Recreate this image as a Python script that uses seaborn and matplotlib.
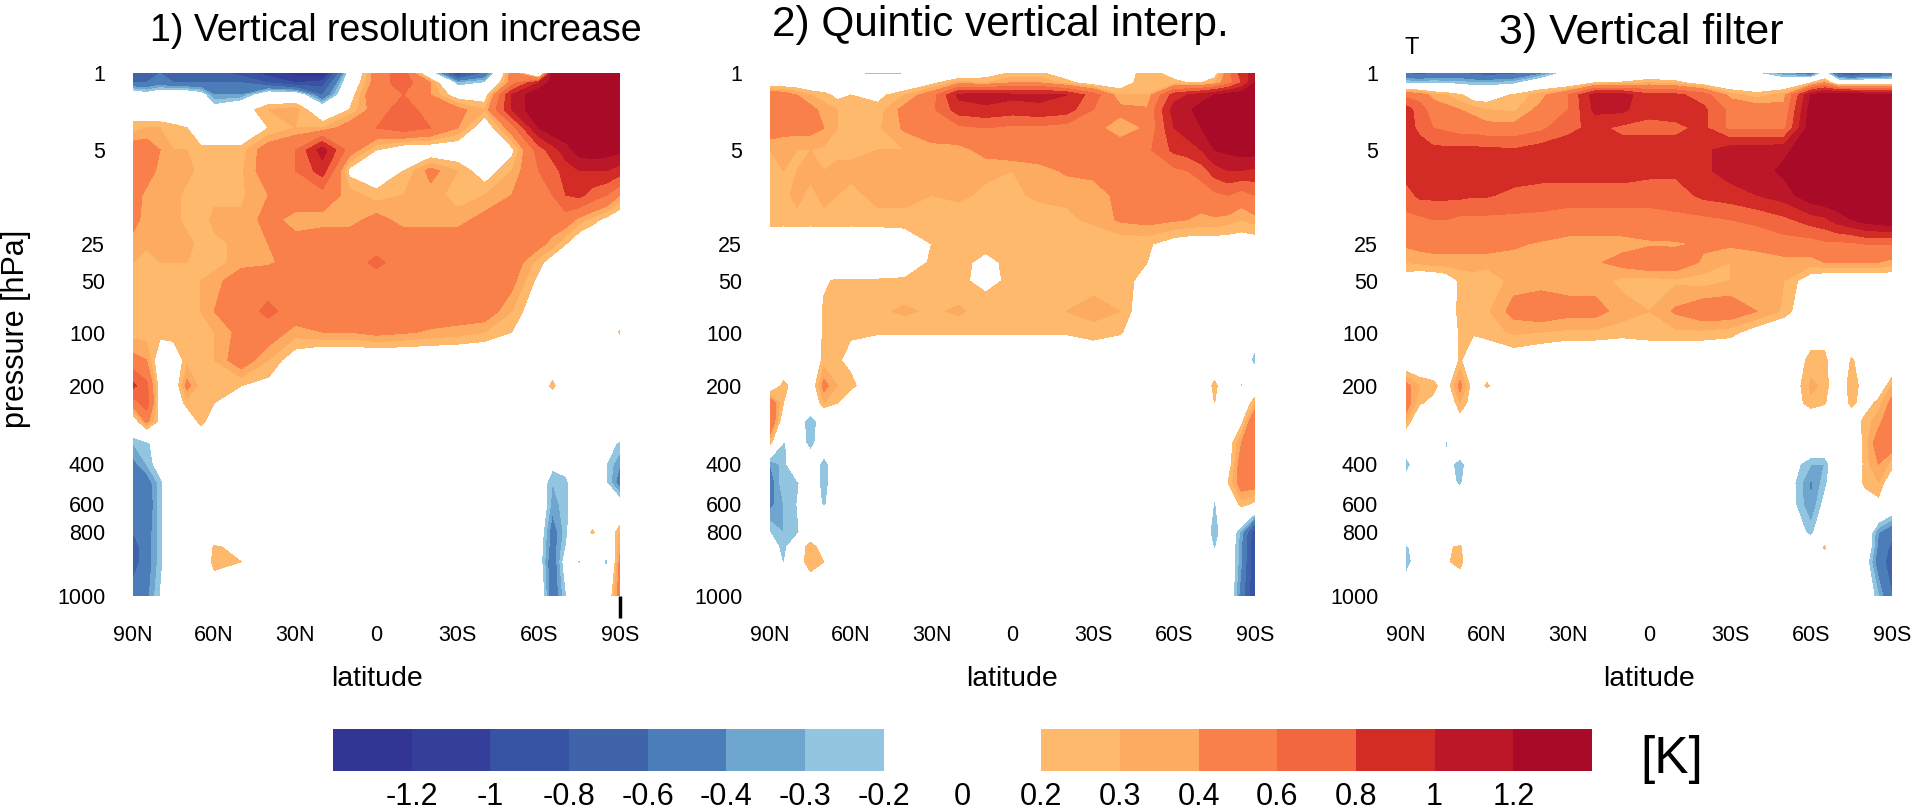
import numpy as np
import seaborn as sns
from matplotlib import pyplot as plt
from matplotlib.colors import ListedColormap

# latitude columns (deg, + is north) and model level rows (0 = top of plot)
lats = [90, 85, 80, 75, 70, 65, 60, 50, 40, 30, 20, 10, 0, -10, -20, -30, -40, -50, -60, -65, -70, -75, -80, -85, -90]
model_level = [0, 8, 18, 30, 45, 63, 80, 100, 120, 140, 155, 170, 195, 212, 235, 256, 270, 285, 303, 320, 335, 353, 376, 388, 400, 428]

pressure_ticks = [1, 5, 25, 50, 100, 200, 400, 600, 800, 1000]
pressure_tick_level = [0, 63, 140, 170, 213, 256, 320, 353, 376, 428]
lat_ticks = [90, 60, 30, 0, -30, -60, -90]
lat_labels = ['90N', '60N', '30N', '0', '30S', '60S', '90S']

titles = ['1) Vertical resolution increase', '2) Quintic vertical interp.', '3) Vertical filter']

# temperature difference [K]
vres_increase = [
    [-.7, -.7, -.6, -.6, -.7, -.7, -.7, -.9, -1.1, -1.3, -1.4, -.1, .5, .7, -.1, -1, -.6, .5, -.4, 1.2, 1.4, 1.4, 1.4, 1.4, 1.4],
    [-.6, -.6, -.5, -.6, -.6, -.6, -.6, -.6, -.8, -1, -.9, 0, .5, .7, .4, -.3, -.2, .5, 1, 1.3, 1.4, 1.4, 1.4, 1.4, 1.4],
    [0, -.1, 0, 0, 0, -.1, -.4, -.4, 0, 0, -.6, .1, .6, .6, .4, .1, .1, 1, 1.4, 1.4, 1.4, 1.4, 1.4, 1.4, 1.4],
    [.1, 0, 0, 0, 0, 0, -.1, .1, .3, .35, 0, .2, .5, .7, .5, .45, .3, 1, 1.4, 1.4, 1.4, 1.4, 1.4, 1.4, 1.4],
    [.25, .3, .3, .25, .2, 0, 0, 0, .2, .3, .3, .5, .6, .7, .6, .4, .05, .5, 1.2, 1.35, 1.4, 1.4, 1.4, 1.4, 1.4],
    [.5, .5, .4, .3, .3, .25, .25, .25, .5, .6, 1.1, .5, .2, .05, .05, .05, .05, .15, .7, .9, 1.1, 1.3, 1.35, 1.3, 1.25],
    [.5, .5, .35, .32, .32, .28, .28, .28, .5, .6, .9, .15, .05, .2, .45, .3, .1, .3, .6, .7, .9, 1, 1, 1, .9],
    [.5, .35, .32, .32, .28, .28, .28, .28, .4, .5, .5, .35, .25, .3, .35, .25, .3, .4, .5, .6, .8, .85, .7, .6, .4],
    [.45, .35, .32, .32, .28, .26, .32, .32, .45, .35, .35, .35, .45, .35, .35, .35, .45, .5, .5, .5, .5, .35, .25, .15, .05],
    [.35, .32, .32, .32, .32, .28, .28, .32, .4, .45, .5, .5, .5, .5, .5, .5, .5, .5, .45, .35, .2, .05, 0, 0, 0],
    [.3, .25, .3, .3, .3, .3, .25, .35, .38, .45, .5, .5, .65, .5, .5, .5, .5, .5, .25, .1, .05, 0, 0, 0, 0],
    [.3, .25, .25, .25, .3, .3, .35, .5, .5, .5, .5, .5, .5, .5, .5, .5, .5, .45, .15, .05, 0, 0, 0, 0, 0],
    [.3, .25, .25, .25, .3, .3, .4, .5, .65, .5, .5, .5, .5, .5, .5, .5, .5, .3, .05, 0, 0, 0, 0, 0, 0],
    [.25, .25, .25, .25, .25, .3, .3, .45, .5, .35, .4, .4, .45, .42, .38, .35, .3, .2, 0, 0, 0, 0, 0, 0, .22],
    [.45, .4, .05, .1, .25, .25, .3, .5, .3, .1, 0, 0, 0, 0, 0, 0, 0, 0, 0, 0, 0, 0, 0, 0, 0],
    [.85, .65, .1, .05, .45, .25, .28, .2, .15, 0, 0, 0, 0, 0, 0, 0, 0, 0, 0, .25, 0, 0, 0, 0, 0],
    [.5, .7, .1, .05, .25, .28, .2, 0, 0, 0, 0, 0, 0, 0, 0, 0, 0, 0, 0, 0, 0, 0, 0, 0, 0],
    [.05, .45, .15, 0, .05, .25, .1, 0, 0, 0, 0, 0, 0, 0, 0, 0, 0, 0, 0, 0, 0, 0, 0, 0, 0],
    [-.3, -.25, -.05, 0, 0, 0, 0, 0, 0, 0, 0, 0, 0, 0, 0, 0, 0, 0, 0, 0, 0, 0, 0, -.15, -.22],
    [-.45, -.3, -.1, 0, 0, 0, 0, 0, 0, 0, 0, 0, 0, 0, 0, 0, 0, 0, 0, -.15, -.1, 0, 0, -.2, -.4],
    [-.5, -.5, -.25, 0, 0, 0, 0, 0, 0, 0, 0, 0, 0, 0, 0, 0, 0, 0, -.05, -.3, -.25, 0, 0, -.2, -.5],
    [-.5, -.55, -.25, 0, 0, 0, 0, 0, 0, 0, 0, 0, 0, 0, 0, 0, 0, 0, 0, -.35, -.25, 0, 0, -.1, -.1],
    [-.6, -.5, -.25, 0, 0, 0, .05, 0, 0, 0, 0, 0, 0, 0, 0, 0, 0, 0, -.05, -.5, -.25, .1, .22, 0, .3],
    [-.7, -.5, -.25, 0, 0, 0, .22, .15, 0, 0, 0, 0, 0, 0, 0, 0, 0, 0, -.1, -.5, -.2, -.1, 0, -.1, .35],
    [-.7, -.5, -.25, 0, 0, 0, .25, .2, 0, 0, 0, 0, 0, 0, 0, 0, 0, 0, -.1, -.55, -.1, -.22, 0, -.25, .45],
    [-.5, -.45, -.2, 0, 0, 0, .05, 0, 0, 0, 0, 0, 0, 0, 0, 0, 0, 0, 0, -.55, -.22, 0, 0, 0, .5],
]

quintic_interp = [
    [-.2, 0, 0, 0, -.05, -.1, -.2, -.25, -.22, 0, 0, .1, .22, .22, .1, 0, .05, .3, .1, .1, .1, .1, .5, .9, 1.1],
    [.05, .05, .05, 0, 0, 0, 0, 0, 0, .15, .35, .3, .4, .4, .25, .1, .1, .3, .25, .2, .2, .3, .5, .8, 1.2],
    [.55, .5, .4, .3, .25, .15, .2, .15, .3, .5, 1.05, 1.1, 1.05, 1.05, 1, .7, .3, .3, .9, 1, 1.1, 1.2, 1.3, 1.35, 1.4],
    [.6, .5, .45, .45, .35, .3, .28, .25, .45, .55, .9, .95, .9, .95, .9, .6, .45, .42, 1.1, 1.15, 1.3, 1.35, 1.4, 1.4, 1.4],
    [.5, .45, .45, .45, .4, .3, .28, .28, .42, .5, .55, .6, .55, .55, .5, .45, .32, .42, 1, 1.1, 1.2, 1.3, 1.4, 1.4, 1.4],
    [.3, .32, .3, .3, .28, .28, .28, .3, .3, .35, .35, .45, .5, .5, .5, .5, .5, .55, .85, .9, 1, 1.2, 1.25, 1.3, 1.3],
    [.3, .3, .3, .32, .3, .32, .32, .32, .32, .32, .32, .32, .3, .35, .42, .45, .5, .5, .55, .6, .7, .9, 1, 1, .95],
    [.28, .28, .32, .28, .32, .3, .28, .32, .32, .3, .32, .28, .28, .32, .32, .32, .45, .5, .5, .5, .45, .55, .6, .5, .6],
    [.28, .27, .28, .27, .28, .28, .27, .28, .28, .26, .25, .25, .25, .25, .28, .32, .42, .45, .42, .4, .38, .38, .35, .3, .35],
    [0, 0, 0, 0, 0, 0, 0, 0, .05, .2, .22, .22, .22, .22, .22, .22, .22, .22, .12, .1, .1, .1, .1, .1, .1],
    [0, 0, 0, 0, 0, 0, 0, 0, .1, .22, .22, .18, .22, .22, .22, .22, .22, .2, 0, 0, 0, 0, 0, 0, 0],
    [0, 0, 0, 0, .18, .22, .22, .22, .22, .22, .22, .17, .22, .22, .25, .28, .28, .12, 0, 0, 0, 0, 0, 0, 0],
    [0, 0, 0, .05, .22, .22, .22, .28, .32, .28, .32, .25, .27, .27, .3, .32, .3, .05, 0, 0, 0, 0, 0, 0, 0],
    [0, 0, 0, .05, .22, .22, .22, .22, .22, .22, .22, .22, .22, .22, .22, .28, .22, 0, 0, 0, 0, 0, 0, 0, -.1],
    [0, 0, 0, 0, .25, .22, .15, 0, 0, 0, 0, 0, 0, 0, 0, 0, 0, 0, 0, 0, 0, 0, 0, -.1, -.25],
    [0, .25, .1, .05, .45, .3, .25, 0, 0, 0, 0, 0, 0, 0, 0, 0, 0, 0, .2, 0, 0, .25, 0, -.22, 0],
    [.55, .2, 0, -.05, .3, .2, 0, 0, 0, 0, 0, 0, 0, 0, 0, 0, 0, 0, 0, 0, 0, .2, 0, 0, .3],
    [.6, .05, -.1, -.28, -.1, 0, 0, 0, 0, 0, 0, 0, 0, 0, 0, 0, 0, 0, 0, 0, 0, 0, 0, .15, .6],
    [.25, -.22, -.1, -.25, -.1, 0, 0, 0, 0, 0, 0, 0, 0, 0, 0, 0, 0, 0, 0, 0, 0, 0, .1, .4, .6],
    [-.4, -.25, -.05, -.1, -.25, -.1, 0, 0, 0, 0, 0, 0, 0, 0, 0, 0, 0, 0, 0, 0, 0, 0, .1, .5, .5],
    [-.5, -.22, -.22, -.1, -.25, -.1, 0, 0, 0, 0, 0, 0, 0, 0, 0, 0, 0, 0, 0, 0, 0, -.15, .2, .5, .5],
    [-.45, -.3, -.2, -.1, -.22, -.1, 0, 0, 0, 0, 0, 0, 0, 0, 0, 0, 0, 0, -.1, 0, 0, -.22, 0, .25, .15],
    [-.2, -.3, -.25, .05, 0, 0, 0, 0, 0, 0, 0, 0, 0, 0, 0, 0, 0, 0, 0, 0, 0, -.3, 0, -.35, -.95],
    [-.05, -.28, .05, .28, .1, 0, 0, 0, 0, 0, 0, 0, 0, 0, 0, 0, 0, 0, 0, 0, 0, -.22, 0, -.4, -1],
    [0, -.22, .1, .28, .2, 0, 0, 0, 0, 0, 0, 0, 0, 0, 0, 0, 0, 0, 0, 0, -.1, -.1, 0, -.4, -1],
    [-.1, 0, 0, 0, 0, 0, 0, 0, 0, 0, 0, 0, 0, 0, 0, 0, 0, 0, 0, 0, 0, 0, 0, -.5, -1],
]

vertical_filter = [
    [-.6, -.7, -.6, -.6, -.6, -.65, -.7, -.65, -.45, -.1, -.1, -.05, 0, 0, -.1, -.2, -.2, -.4, -.6, -.1, -.7, -.9, -.7, -.7, -.6],
    [-.22, -.25, -.22, -.25, -.25, -.3, -.3, -.25, 0, 0, .2, .22, .3, .25, .1, 0, 0, 0, .2, .4, 0, 0, 0, 0, 0],
    [.55, .5, .35, .3, .22, .1, .1, .22, .35, .6, 1.1, 1.1, .85, .85, .7, .35, .25, .35, 1.2, 1.35, 1.4, 1.35, 1.3, 1.3, 1.3],
    [.9, .7, .5, .45, .4, .35, .3, .28, .45, .6, 1.05, 1.05, .85, .9, .85, .55, .5, .45, 1.3, 1.4, 1.4, 1.4, 1.4, 1.4, 1.4],
    [.9, .75, .6, .55, .5, .5, .45, .45, .55, .75, .85, .75, .75, .75, .85, .55, .55, .55, 1.35, 1.4, 1.4, 1.4, 1.4, 1.4, 1.4],
    [.95, .9, .85, .85, .85, .85, .85, .82, .9, .9, .9, .9, .9, .9, .95, 1.1, 1.1, 1.15, 1.35, 1.4, 1.4, 1.4, 1.4, 1.4, 1.4],
    [.9, .9, .9, .9, .9, .9, .9, .9, .9, .9, .9, .9, .85, .85, .95, 1.1, 1.1, 1.25, 1.35, 1.4, 1.4, 1.4, 1.4, 1.4, 1.4],
    [.7, .85, .85, .85, .85, .82, .82, .75, .7, .7, .7, .7, .7, .7, .85, .9, 1, 1.1, 1.35, 1.4, 1.4, 1.4, 1.4, 1.4, 1.4],
    [.55, .55, .6, .6, .55, .55, .55, .55, .55, .5, .5, .5, .5, .55, .55, .6, .65, .75, .9, .95, 1.1, 1.2, 1.3, 1.35, 1.4],
    [.42, .45, .45, .45, .45, .45, .45, .42, .38, .35, .35, .35, .38, .38, .42, .42, .45, .5, .5, .55, .55, .55, .6, .6, .6],
    [.3, .32, .35, .35, .35, .35, .35, .35, .35, .35, .38, .45, .52, .5, .38, .3, .32, .35, .35, .4, .4, .4, .4, .4, .35],
    [.1, .05, .05, .1, .22, .25, .2, .35, .35, .35, .35, .27, .25, .28, .25, .3, .32, .3, .1, .05, .05, .05, .05, .05, .05],
    [0, 0, 0, .05, .25, .22, .28, .45, .5, .45, .45, .35, .3, .42, .5, .5, .4, .28, 0, 0, 0, 0, 0, 0, 0],
    [0, 0, 0, .05, .22, .22, .25, .32, .3, .28, .28, .25, .28, .28, .28, .25, .12, 0, .1, .1, 0, 0, 0, 0, 0],
    [0, 0, 0, 0, .22, .05, .05, .1, .05, 0, 0, 0, 0, 0, 0, 0, 0, 0, .25, .25, 0, .22, .1, 0, 0],
    [.45, .3, .25, .1, .45, .1, .22, 0, 0, 0, 0, 0, 0, 0, 0, 0, 0, 0, .32, .28, 0, .3, .1, .05, .3],
    [.5, .22, .15, 0, .3, .1, 0, 0, 0, 0, 0, 0, 0, 0, 0, 0, 0, 0, .28, .22, 0, .25, .1, .25, .45],
    [.3, 0, 0, 0, .1, 0, 0, 0, 0, 0, 0, 0, 0, 0, 0, 0, 0, 0, 0, 0, 0, .05, .25, .35, .55],
    [0, -.05, -.05, -.22, -.05, 0, 0, 0, 0, 0, 0, 0, 0, 0, 0, 0, 0, 0, 0, 0, 0, 0, .25, .5, .5],
    [-.3, 0, 0, -.15, -.25, -.1, 0, 0, 0, 0, 0, 0, 0, 0, 0, 0, 0, -.05, -.3, -.3, 0, -.1, .25, .4, .25],
    [-.1, 0, 0, -.15, -.22, -.1, 0, 0, 0, 0, 0, 0, 0, 0, 0, 0, 0, -.05, -.42, -.25, 0, 0, .25, .3, .05],
    [0, .05, 0, 0, -.1, 0, 0, 0, 0, 0, 0, 0, 0, 0, 0, 0, 0, -.05, -.4, -.15, 0, 0, .05, .15, 0],
    [.05, 0, 0, 0, 0, 0, 0, 0, 0, 0, 0, 0, 0, 0, 0, 0, 0, 0, -.25, 0, 0, 0, 0, -.4, -.55],
    [-.25, -.02, 0, .18, .22, 0, 0, 0, 0, 0, 0, 0, 0, 0, 0, 0, 0, 0, -.05, .22, 0, 0, 0, -.45, -.65],
    [-.3, -.05, 0, .18, .25, 0, 0, 0, 0, 0, 0, 0, 0, 0, 0, 0, 0, 0, 0, .1, 0, 0, -.1, -.5, -.7],
    [0, 0, 0, 0, 0, 0, 0, 0, 0, 0, 0, 0, 0, 0, 0, 0, 0, 0, 0, 0, 0, 0, 0, -.3, -.6],
]

# contour levels; outer two only catch whatever is past +-1.2
levels = [-3, -1.2, -1, -.8, -.6, -.4, -.3, -.2, 0, .2, .3, .4, .6, .8, 1, 1.2, 3]
level_labels = ['-1.2', '-1', '-0.8', '-0.6', '-0.4', '-0.3', '-0.2', '0', '0.2', '0.3', '0.4', '0.6', '0.8', '1', '1.2']
blues = ['#333594', '#343f9a', '#3953a4', '#4064a9', '#4b7eb8', '#6fa6cf', '#92c5e0']
reds = ['#feb96c', '#fdab60', '#f9804a', '#f26640', '#d32c26', '#bb1728', '#a90a27']
palette = sns.color_palette(blues + ['#ffffff', '#ffffff'] + reds)

sns.set_theme(style='white', rc={'text.color': 'black', 'xtick.color': 'black',
                                 'ytick.color': 'black', 'axes.labelcolor': 'black'})
plt.rcParams['font.family'] = ['Liberation Sans', 'DejaVu Sans']

W, H = 1911, 811
fig = plt.figure(figsize=(W / 100, H / 100), dpi=100)


def add_axes(x0, y0, x1, y1):
    return fig.add_axes([x0 / W, 1 - y1 / H, (x1 - x0) / W, (y1 - y0) / H])


def draw_panel(ax, values):
    ax.contourf(lats, model_level, np.array(values), levels=levels, colors=palette)
    ax.set_xlim(90, -90)
    ax.set_ylim(428, 0)
    ax.set_yticks(pressure_tick_level, pressure_ticks, fontsize=15.5)
    ax.set_xticks(lat_ticks, lat_labels, fontsize=15.5)
    ax.tick_params(axis='y', length=0, pad=20)
    ax.tick_params(axis='x', length=0, pad=21)
    ax.set_xlabel('latitude', fontsize=20.5, labelpad=14)
    sns.despine(ax=ax, left=True, bottom=True)


panel_x = [(133, 620), (770, 1255), (1406, 1892)]
for (x0, x1), values in zip(panel_x, [vres_increase, quintic_interp, vertical_filter]):
    draw_panel(add_axes(x0, 73, x1, 596), values)

first = fig.axes[0]
first.set_ylabel('pressure [hPa]', fontsize=22)
first.yaxis.set_label_coords(-0.21, 0.51)
# stray tick at 90S in panel 1
last_tick = first.xaxis.get_major_ticks()[-1]
last_tick.tick1line.set_visible(True)
last_tick.tick1line.set_markersize(16)
last_tick.tick1line.set_markeredgewidth(2.5)
last_tick.tick1line.set_markeredgecolor('black')

title_x = [396, 1000, 1641]
title_y = [31, 25, 33]
title_size = [27, 30.5, 31]
for x, y, size, title in zip(title_x, title_y, title_size, titles):
    fig.text(x / W, 1 - y / H, title, fontsize=size, ha='center', va='center')
fig.text(1412 / W, 1 - 48 / H, 'T', fontsize=17, ha='center', va='center')
fig.text(1672 / W, 1 - 760 / H, '[K]', fontsize=37, ha='center', va='center')

# colour key, one cell per contour interval
cax = add_axes(333, 729, 1592, 771)
sns.heatmap([list(range(len(palette)))], ax=cax, cmap=ListedColormap(palette), cbar=False,
            xticklabels=False, yticklabels=False)
cax.set_xticks(np.arange(1, len(palette)), level_labels, rotation=0, fontsize=22)
cax.tick_params(axis='x', length=0, pad=8)

fig.savefig('out.png', dpi=100)
